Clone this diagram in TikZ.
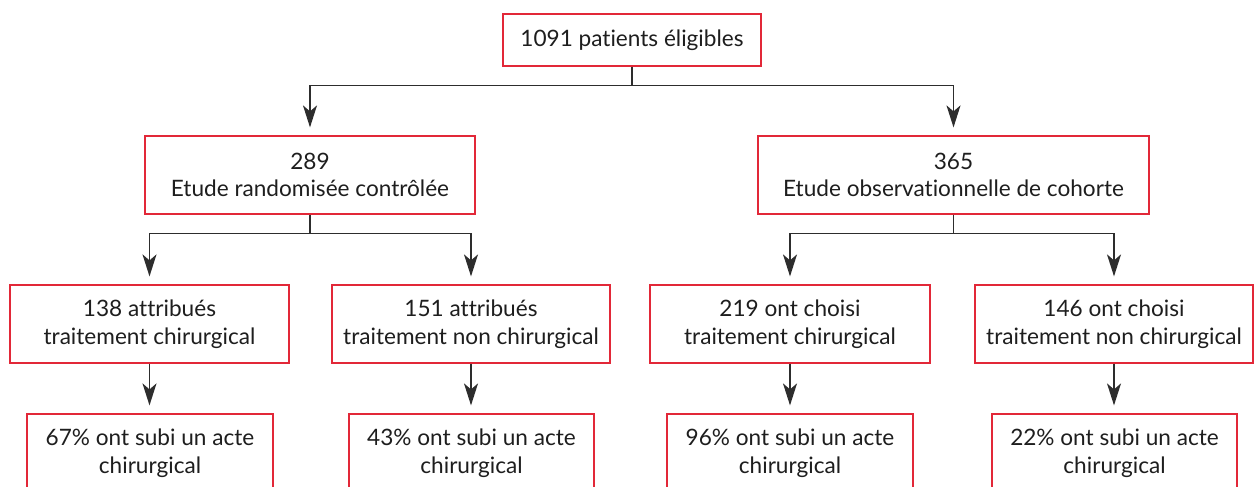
\documentclass[tikz,border=0pt]{standalone}
\usepackage{fontspec}
\setmainfont{Lato}[RawFeature={-liga;-dlig}]
\usetikzlibrary{arrows.meta,calc}
\definecolor{boxred}{RGB}{226,40,56}
\definecolor{linegray}{RGB}{45,45,45}
\definecolor{textgray}{RGB}{30,30,30}
\begin{document}
\begin{tikzpicture}[x=1pt,y=-1pt,
  box/.style={draw=boxred, line width=1.2pt, fill=white, inner sep=0pt,
    align=center, text=textgray, font=\fontsize{22.6}{27.5}\selectfont,
    minimum height=78pt},
  conn/.style={draw=linegray, line width=1.5pt},
  arr/.style={conn, -{Stealth[length=22pt,width=14pt,inset=6pt]}, shorten >=8pt}]
\path[use as bounding box, clip] (0,0) rectangle (1258,487);
\fill[white] (0,0) rectangle (1258,487);
% level 1
\node[box, minimum width=258pt, minimum height=52pt] (top) at (632,40) {1091 patients éligibles};
% level 2
\node[box, minimum width=330pt] (rct) at (310,175) {289\\Etude randomisée contrôlée};
\node[box, minimum width=391pt] (obs) at (953.5,175) {365\\Etude observationnelle de cohorte};
% level 3
\node[box, minimum width=279pt] (a138) at (149.5,324) {138 attribués\\traitement chirurgical};
\node[box, minimum width=278pt] (a151) at (471,324) {151 attribués\\traitement non chirurgical};
\node[box, minimum width=280pt] (c219) at (790,324) {219 ont choisi\\traitement chirurgical};
\node[box, minimum width=278pt] (c146) at (1114,324) {146 ont choisi\\traitement non chirurgical};
% level 4
\node[box, minimum width=246pt] (r67) at (150,453) {67\% ont subi un acte\\chirurgical};
\node[box, minimum width=245pt] (r43) at (471.5,453) {43\% ont subi un acte\\chirurgical};
\node[box, minimum width=246pt] (r96) at (790,453) {96\% ont subi un acte\\chirurgical};
\node[box, minimum width=245pt] (r22) at (1114.5,453) {22\% ont subi un acte\\chirurgical};
% connectors
\draw[conn] (top.south) -- ++(0,19) coordinate (j0);
\draw[arr] (j0) -| (rct.north);
\draw[arr] (j0) -| (obs.north);
\draw[conn] (rct.south) -- ++(0,19) coordinate (j1);
\draw[arr] (j1) -| (a138.north);
\draw[arr] (j1) -| (a151.north);
\draw[conn] (obs.south) -- ++(0,19) coordinate (j2);
\draw[arr] (j2) -| (c219.north);
\draw[arr] (j2) -| (c146.north);
\draw[arr] (a138.south) -- (r67.north -| a138.south);
\draw[arr] (a151.south) -- (r43.north -| a151.south);
\draw[arr] (c219.south) -- (r96.north -| c219.south);
\draw[arr] (c146.south) -- (r22.north -| c146.south);
\end{tikzpicture}
\end{document}
